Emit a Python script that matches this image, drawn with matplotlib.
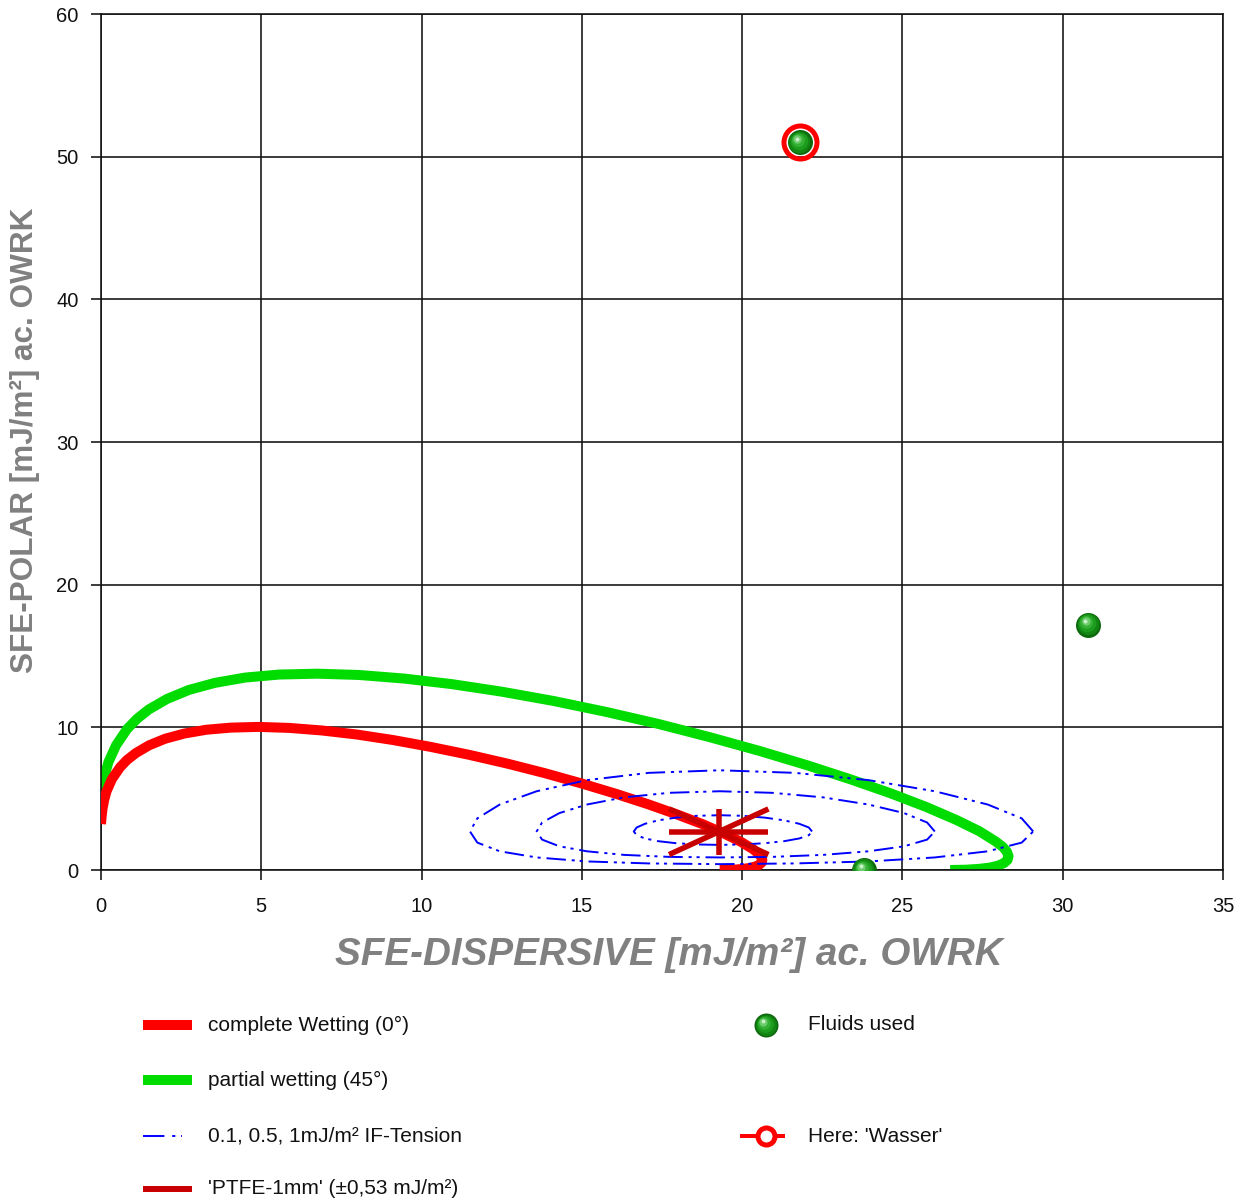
import matplotlib
matplotlib.use("Agg")
import matplotlib.pyplot as plt
from matplotlib.transforms import offset_copy

plt.rcParams['font.family'] = ['Liberation Sans', 'DejaVu Sans']

# ---------------- data ----------------
# complete wetting envelope (0 deg)
wet0_d = [0.00, 0.02, 0.05, 0.10, 0.17, 0.34, 0.59, 0.81, 1.09, 1.50, 2.00, 2.59, 3.28, 4.05,
          4.92, 5.87, 6.89, 7.97, 9.11, 10.28, 11.47, 12.67, 13.84, 14.97, 16.05, 17.05,
          17.96, 18.76, 19.42, 19.95, 20.34, 20.49, 20.59, 20.63, 20.61, 20.53, 20.39,
          20.20, 19.95, 19.65, 19.30]
wet0_p = [3.22, 3.77, 4.33, 4.91, 5.50, 6.37, 7.19, 7.71, 8.20, 8.74, 9.20, 9.56, 9.83, 9.98,
          10.03, 9.96, 9.78, 9.50, 9.11, 8.63, 8.08, 7.46, 6.79, 6.08, 5.35, 4.62,
          3.90, 3.22, 2.57, 1.99, 1.46, 1.18, 0.93, 0.71, 0.52, 0.36, 0.23,
          0.13, 0.06, 0.01, 0.00]
# partial wetting envelope (45 deg)
wet45_d = [0.01, 0.03, 0.07, 0.13, 0.23, 0.47, 0.81, 1.12, 1.49, 2.06, 2.74, 3.56, 4.50, 5.56,
           6.75, 8.05, 9.45, 10.94, 12.50, 14.11, 15.74, 17.38, 18.99, 20.55, 22.03, 23.40,
           24.65, 25.74, 26.66, 27.39, 27.91, 28.13, 28.26, 28.31, 28.28, 28.17, 27.99,
           27.73, 27.39, 26.97, 26.49]
wet45_p = [4.42, 5.17, 5.95, 6.75, 7.55, 8.74, 9.87, 10.59, 11.25, 11.99, 12.62, 13.12, 13.49, 13.70,
           13.76, 13.67, 13.42, 13.03, 12.50, 11.85, 11.09, 10.24, 9.31, 8.34, 7.34, 6.34,
           5.36, 4.42, 3.53, 2.73, 2.00, 1.62, 1.28, 0.97, 0.71, 0.49, 0.31,
           0.17, 0.08, 0.02, 0.00]
# interfacial tension contours 0.1 / 0.5 / 1 mJ/m2
ift1_d = [29.08, 28.72, 27.66, 26.01, 23.94, 21.64, 19.30, 17.09, 15.16, 13.59, 12.44, 11.74,
          11.51, 11.74, 12.44, 13.59, 15.16, 17.09, 19.30, 21.64, 23.94, 26.01, 27.66, 28.72, 29.08]
ift1_p = [2.70, 3.62, 4.59, 5.52, 6.30, 6.81, 6.99, 6.81, 6.30, 5.52, 4.59, 3.62,
          2.70, 1.92, 1.31, 0.88, 0.60, 0.46, 0.41, 0.46, 0.60, 0.88, 1.31, 1.92, 2.70]
ift05_d = [26.01, 25.77, 25.05, 23.94, 22.53, 20.94, 19.30, 17.72, 16.31, 15.16, 14.30, 13.76,
           13.59, 13.76, 14.30, 15.16, 16.31, 17.72, 19.30, 20.94, 22.53, 23.94, 25.05, 25.77, 26.01]
ift05_p = [2.70, 3.33, 3.99, 4.59, 5.09, 5.41, 5.52, 5.41, 5.09, 4.59, 3.99, 3.33,
           2.70, 2.13, 1.66, 1.31, 1.06, 0.92, 0.88, 0.92, 1.06, 1.31, 1.66, 2.13, 2.70]
ift01_d = [22.18, 22.08, 21.78, 21.31, 20.71, 20.02, 19.30, 18.59, 17.93, 17.38, 16.97, 16.71,
           16.62, 16.71, 16.97, 17.38, 17.93, 18.59, 19.30, 20.02, 20.71, 21.31, 21.78, 22.08, 22.18]
ift01_p = [2.70, 2.98, 3.24, 3.48, 3.67, 3.80, 3.84, 3.80, 3.67, 3.48, 3.24, 2.98,
           2.70, 2.44, 2.21, 2.02, 1.88, 1.79, 1.76, 1.79, 1.88, 2.02, 2.21, 2.44, 2.70]
# solid (PTFE-1mm) and its marker extent
solid_d = 19.27
solid_p = 2.68
star_dx = 1.55
star_dy = 1.6
# fluids used
fluids_d = [21.8, 30.8, 23.8]
fluids_p = [51.0, 17.2, 0.0]
here_d = 21.8
here_p = 51.0

x_ticks = [0, 5, 10, 15, 20, 25, 30, 35]
y_ticks = [0, 10, 20, 30, 40, 50, 60]

legend_labels = ["complete Wetting (0°)", "partial wetting (45°)",
                 "0.1, 0.5, 1mJ/m² IF-Tension", "'PTFE-1mm' (±0,53 mJ/m²)"]
legend_labels_right = ["Fluids used", "Here: 'Wasser'"]

# ---------------- figure ----------------
W, H = 1241, 1201
fig = plt.figure(figsize=(W / 100, H / 100), dpi=100)
ax = fig.add_axes([101 / W, 1 - 870 / H, (1223 - 101) / W, (870 - 14) / H])

RED = '#ff0000'
GREEN = '#00dc00'
BLUE = '#0000ff'
DRED = '#c80000'
px = 0.72  # points per pixel

ax.set_xlim(0, 35)
ax.set_ylim(0, 60)
ax.set_xticks(x_ticks)
ax.set_yticks(y_ticks)
ax.grid(True, color='#111111', linewidth=1.6 * px, zorder=0.5)
ax.set_axisbelow(True)
for s in ax.spines.values():
    s.set_color('#111111')
    s.set_linewidth(1.6 * px)
ax.tick_params(direction='out', length=10 * px, width=1.6 * px, color='#111111',
               labelsize=14.5, labelcolor='#111111')
ax.tick_params(axis='x', pad=12)
ax.tick_params(axis='y', pad=9)

dash = (0, (10, 3, 1.6, 2.5, 1.6, 3))

ax.plot(wet45_d, wet45_p, color=GREEN, lw=10 * px, solid_capstyle='butt',
        solid_joinstyle='round', zorder=2)
ax.plot(wet0_d, wet0_p, color=RED, lw=10 * px, solid_capstyle='butt',
        solid_joinstyle='round', zorder=3)
for cd, cp in [(ift1_d, ift1_p), (ift05_d, ift05_p), (ift01_d, ift01_p)]:
    ax.plot(cd, cp, color=BLUE, lw=1.4, linestyle=dash, zorder=4)

# solid star
for xs, ys in [([solid_d - star_dx, solid_d + star_dx], [solid_p, solid_p]),
               ([solid_d, solid_d], [solid_p - star_dy, solid_p + star_dy]),
               ([solid_d - star_dx, solid_d + star_dx], [solid_p - star_dy, solid_p + star_dy]),
               ([solid_d - star_dx, solid_d + star_dx], [solid_p + star_dy, solid_p - star_dy])]:
    ax.plot(xs, ys, color=DRED, lw=5.5 * px, solid_capstyle='butt', zorder=5)


def spheres(axis, xs, ys, diam_px, z, clip=True):
    layers = [(1.00, '#0c6a0c', 0, 0), (0.86, '#138513', -0.5, 0.5),
              (0.70, '#1d9d1d', -1.2, 1.2), (0.52, '#34b034', -2.0, 2.2),
              (0.34, '#6ccc6c', -2.6, 3.0), (0.16, '#c8f0c8', -3.0, 3.6)]
    for f, c, dx, dy in layers:
        tr = offset_copy(axis.transData, fig=fig, x=dx * diam_px / 24, y=dy * diam_px / 24, units='dots')
        axis.plot(xs, ys, linestyle='none', marker='o', ms=diam_px * f * px,
                  mfc=c, mec='none', transform=tr, zorder=z, clip_on=clip)


spheres(ax, fluids_d, fluids_p, 25, 6)
ax.plot([here_d], [here_p], linestyle='none', marker='o', ms=33 * px, mfc='none',
        mec=RED, mew=5 * px, zorder=7)

ax.set_xlabel("SFE-DISPERSIVE [mJ/m²] ac. OWRK", fontsize=27.8, fontweight='bold',
              fontstyle='italic', color='#808080', va='center')
ax.xaxis.set_label_coords((669 - 101) / 1122, (870 - 955) / 856)
ax.set_ylabel("SFE-POLAR [mJ/m²] ac. OWRK", fontsize=22.7, fontweight='bold',
              color='#808080', va='center')
ax.yaxis.set_label_coords((25 - 101) / 1122, (870 - 440) / 856)

# ---------------- legend (pixel coordinates) ----------------
lg = fig.add_axes([0, 0, 1, 1], zorder=-1)
lg.set_xlim(0, W)
lg.set_ylim(H, 0)
lg.axis('off')
rows = [1025, 1080, 1136, 1189]
lg.plot([143, 192], [rows[0]] * 2, color=RED, lw=10 * px, solid_capstyle='butt')
lg.plot([143, 192], [rows[1]] * 2, color=GREEN, lw=10 * px, solid_capstyle='butt')
lg.plot([143, 182], [rows[2]] * 2, color=BLUE, lw=1.4, linestyle=(0, (11, 4, 1.6, 3, 1.6, 3)))
lg.plot([143, 192], [rows[3]] * 2, color=DRED, lw=6 * px, solid_capstyle='butt')
for r, t in zip(rows, legend_labels):
    lg.text(208, r, t, fontsize=15, va='center', ha='left', color='#111111')
spheres(lg, [766], [rows[0]], 24, 3, clip=False)
lg.plot([740, 785], [rows[2]] * 2, color=RED, lw=4 * px, solid_capstyle='butt')
lg.plot([766], [rows[2]], linestyle='none', marker='o', ms=17 * px, mfc='white',
        mec=RED, mew=5 * px)
lg.text(808, rows[0], legend_labels_right[0], fontsize=15, va='center', ha='left', color='#111111')
lg.text(808, rows[2], legend_labels_right[1], fontsize=15, va='center', ha='left', color='#111111')

fig.savefig("out.png", dpi=100)
